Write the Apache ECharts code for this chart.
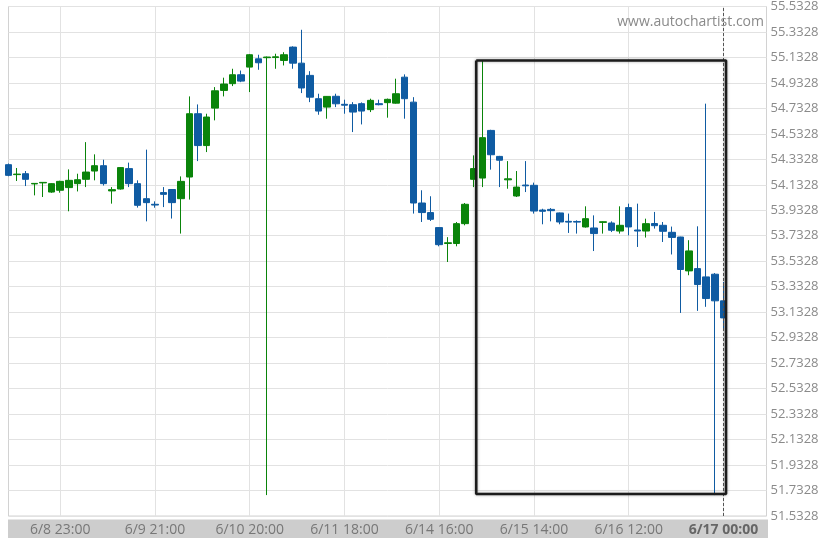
<!DOCTYPE html>
<html>
<head>
<meta charset="utf-8">
<script src="https://cdn.jsdelivr.net/npm/echarts@6/dist/echarts.min.js"></script>
<style>
html,body{margin:0;padding:0;background:#fff;}
#c{width:822px;height:548px;}
</style>
</head>
<body>
<div id="c"></div>
<script>
// ---- data ----
const opens  = [54.291,54.213,54.220,54.140,54.148,54.076,54.090,54.111,54.142,54.176,54.241,54.283,54.085,54.100,54.260,54.142,54.024,53.980,54.072,54.096,54.024,54.194,54.691,54.441,54.735,54.874,54.927,54.997,55.057,55.122,55.131,55.132,55.109,55.214,55.088,54.992,54.809,54.743,54.828,54.765,54.762,54.770,54.723,54.770,54.778,54.774,54.978,54.782,53.990,53.915,53.797,53.672,53.672,53.828,54.176,54.186,54.560,54.356,54.172,54.045,54.131,54.129,53.935,53.940,53.912,53.846,53.845,53.802,53.794,53.838,53.833,53.770,53.954,53.778,53.770,53.829,53.815,53.760,53.723,53.457,53.475,53.410,53.431,53.222];
const closes = [54.207,54.217,54.176,54.144,54.152,54.142,54.160,54.168,54.173,54.233,54.283,54.142,54.095,54.268,54.142,53.972,53.993,53.974,54.058,53.993,54.160,54.691,54.441,54.665,54.871,54.924,54.997,54.947,55.154,55.091,55.136,55.138,55.154,55.088,54.893,54.821,54.712,54.827,54.769,54.758,54.704,54.712,54.796,54.762,54.804,54.848,54.809,53.990,53.915,53.862,53.663,53.678,53.828,53.980,54.260,54.503,54.369,54.326,54.180,54.115,54.125,53.927,53.925,53.930,53.841,53.840,53.840,53.867,53.750,53.843,53.776,53.815,53.802,53.770,53.828,53.812,53.768,53.720,53.468,53.614,53.350,53.240,53.222,53.088];
const lows   = [54.200,54.163,54.123,54.050,54.037,54.070,54.071,53.925,54.081,54.115,54.168,54.127,53.985,54.095,54.115,53.954,53.846,53.953,53.958,53.868,53.750,54.017,54.319,54.390,54.639,54.827,54.908,54.939,54.861,55.036,51.697,55.044,55.070,55.044,54.853,54.782,54.683,54.652,54.743,54.691,54.547,54.607,54.704,54.757,54.660,54.770,54.652,53.907,53.841,53.849,53.650,53.527,53.650,53.815,54.115,54.115,54.252,54.115,54.102,54.037,54.076,53.907,53.823,53.846,53.823,53.755,53.750,53.797,53.613,53.750,53.762,53.750,53.736,53.645,53.719,53.789,53.684,53.586,53.127,53.423,53.143,53.175,51.697,53.005];
const highs  = [54.300,54.265,54.241,54.146,54.154,54.146,54.165,54.254,54.220,54.468,54.372,54.330,54.115,54.272,54.307,54.168,54.409,54.003,54.115,54.100,54.199,54.827,54.764,54.691,54.900,54.974,55.044,55.030,55.160,55.154,55.140,55.162,55.174,55.220,55.350,55.025,54.848,54.830,54.848,54.801,54.782,54.780,54.809,54.801,54.810,54.966,55.000,54.821,54.090,54.043,53.800,53.722,53.841,53.990,54.364,55.109,54.565,54.360,54.319,54.241,54.319,54.150,53.945,53.950,53.915,53.907,53.854,53.964,53.893,53.846,53.846,53.964,53.985,53.985,53.867,53.920,53.841,53.805,53.725,53.698,53.807,54.770,53.440,53.370];
const slotCount = 89;                       // category slots on the time axis
const labelIdx  = [6,17,28,39,50,61,72,83]; // slots carrying a tick label
const tickLabels = ['6/8 23:00','6/9 21:00','6/10 20:00','6/11 18:00','6/14 16:00','6/15 14:00','6/16 12:00','6/17 00:00'];
const currentIdx = 83;                      // dashed "now" line
const boxX = [54.3, 83.3];                  // pattern box, in slot units
const boxY = [51.705, 55.109];              // pattern box, price range
const yMin = 51.5328, yMax = 55.5328, yStep = 0.2;

// ---- build ----
const cats = [];
for (let i = 0; i < slotCount; i++) cats.push(String(i));
const ohlc = opens.map((o, i) => [o, closes[i], lows[i], highs[i]]);
const boxPath = [[boxX[0], boxY[1]], [boxX[1], boxY[1]], [boxX[1], boxY[0]], [boxX[0], boxY[0]], [boxX[0], boxY[1]]];

const UP = '#0a840a', DOWN = '#0f5ba2';
const FONT = '"Open Sans", "Noto Sans", sans-serif';

const chart = echarts.init(document.getElementById('c'), null, {renderer: 'canvas'});
chart.setOption({
  animation: false,
  backgroundColor: '#ffffff',
  grid: {left: 8.5, right: 55.5, top: 6, bottom: 32, show: true, borderColor: '#d2d2d2', borderWidth: 1},
  graphic: [
    {type: 'rect', z: -10, shape: {x: 8, y: 519.5, width: 760, height: 18.5}, style: {fill: '#cdcdcd'}},
    {type: 'text', right: 58, top: 15, z: 10, style: {text: 'www.autochartist.com', fill: '#8a8a8a', font: '14px ' + FONT}}
  ],
  xAxis: [{
    type: 'category', data: cats, boundaryGap: false,
    axisLine: {show: false}, axisTick: {show: false},
    axisLabel: {
      interval: (i) => labelIdx.includes(i),
      margin: 7, color: '#777', fontSize: 14, fontFamily: FONT,
      formatter: (v, i) => {
        const k = labelIdx.indexOf(Number(v));
        if (k < 0) return '';
        return labelIdx[k] === currentIdx ? '{b|' + tickLabels[k] + '}' : tickLabels[k];
      },
      rich: {b: {fontWeight: 'bold', color: '#666', fontSize: 14, fontFamily: FONT}}
    },
    splitLine: {show: true, interval: (i) => labelIdx.includes(i), lineStyle: {color: '#e2e2e2', width: 1}}
  }, {
    type: 'value', min: 0, max: slotCount - 1, show: false
  }],
  yAxis: {
    type: 'value', position: 'right', min: yMin, max: yMax, interval: yStep, scale: true,
    axisLine: {show: false}, axisTick: {show: false},
    axisLabel: {
      color: '#8a8a8a', fontSize: 13, fontFamily: FONT, margin: 4,
      formatter: (v) => (yMin + Math.round((v - yMin) / yStep) * yStep).toFixed(4)
    },
    splitLine: {lineStyle: {color: '#e2e2e2', width: 1}}
  },
  series: [{
    type: 'candlestick', data: ohlc, barWidth: 7, large: false, progressive: 0,
    itemStyle: {color: UP, color0: DOWN, borderColor: UP, borderColor0: DOWN, borderWidth: 1},
    markLine: {
      silent: true, symbol: ['none', 'none'], label: {show: false},
      lineStyle: {color: '#555', type: [3, 2], width: 1},
      data: [{xAxis: currentIdx}]
    }
  }, {
    type: 'line', xAxisIndex: 1, data: boxPath, symbol: 'none', silent: true, z: 5,
    lineStyle: {color: '#1c1c1c', width: 2.6, shadowBlur: 3, shadowColor: 'rgba(0,0,0,0.35)'}
  }]
});
</script>
</body>
</html>
